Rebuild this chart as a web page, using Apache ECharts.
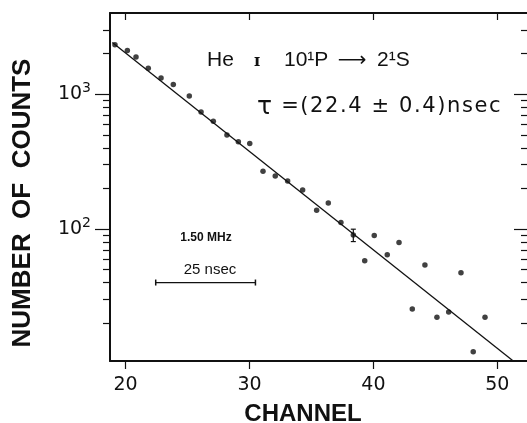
<!DOCTYPE html>
<html><head><meta charset="utf-8">
<script src="https://cdn.jsdelivr.net/npm/echarts@6/dist/echarts.min.js"></script>
<style>html,body{margin:0;padding:0;background:#fff}#c{width:527px;height:423px}</style>
</head><body><div id="c"></div>
<script>
// Measured data (channel, number of counts)
const channels = [19.14, 20.14, 20.84, 21.83, 22.86, 23.85, 25.14, 26.09, 27.08, 28.18, 29.10, 30.02,
  31.09, 32.08, 33.08, 34.29, 35.42, 36.36, 37.38, 38.38, 39.30, 40.07, 41.12, 42.07, 43.14, 44.16,
  45.13, 46.08, 47.07, 48.06, 49.01];
const counts = [2323, 2108, 1884, 1560, 1321, 1178, 971, 739, 631, 499, 443, 430,
  268, 247, 227, 195, 138, 156, 112, 90.2, 58.2, 89.7, 64.4, 79.4, 25.5, 54.1,
  22.2, 24.2, 47.4, 12.3, 22.2];
// Fitted decay line endpoints
const fitChannels = [18.93, 51.29];
const fitCounts = [2416, 10.5];
// Error bar
const errChannels = [38.38];
const errLow = [80.7];
const errHigh = [99.7];
// 25 nsec scale bar
const scaleBarChannels = [22.43, 30.48];
const scaleBarCounts = [40.1, 40.1];
// Axes
const xTickValues = [20, 30, 40, 50];
const yMajorTicks = [100, 1000];
const yMinorTicks = [20, 30, 40, 50, 60, 70, 80, 90, 200, 300, 400, 500, 600, 700, 800, 900, 2000, 3000];
const xMin = 18.74, xMax = 52.4, yMin = 10.5, yMax = 4000;

const ink = '#111';
const lgMin = Math.log10(yMin), lgMax = Math.log10(yMax);

// emulate letter spacing with one rich token per character
function spaced(str) {
  return Array.from(str).map(function (ch) { return '{c|' + ch + '}'; }).join('');
}

function helperY(position, values, length, inside, labels) {
  return {
    type: 'value', position: position, min: lgMin, max: lgMax,
    axisLine: {show: false}, splitLine: {show: false},
    axisTick: {show: true, inside: inside, length: length, customValues: values.map(Math.log10),
      lineStyle: {color: ink, width: 1.2}},
    axisLabel: labels ? {
      show: true, margin: 19, customValues: values.map(Math.log10),
      formatter: function (v) { return '{b|10}{s|' + Math.round(v) + '}'; },
      rich: {
        b: {fontFamily: 'DejaVu Sans', fontSize: 19, color: ink},
        s: {fontFamily: 'DejaVu Sans', fontSize: 14, color: ink, padding: [0, 0, 12, 0]}
      }
    } : {show: false}
  };
}

const chart = echarts.init(document.getElementById('c'), null, {renderer: 'canvas'});
chart.setOption({
  animation: false,
  backgroundColor: '#fff',
  grid: {left: 110, right: 0, top: 13, bottom: 62, containLabel: false, outerBoundsMode: 'none'},
  xAxis: [
    {type: 'value', position: 'bottom', min: xMin, max: xMax,
      axisLine: {show: true, lineStyle: {color: ink, width: 2}},
      axisTick: {show: true, length: 8, customValues: xTickValues, lineStyle: {color: ink, width: 1.2}},
      axisLabel: {show: true, customValues: xTickValues, margin: 15, color: ink,
        fontFamily: 'DejaVu Sans', fontSize: 19},
      splitLine: {show: false}},
    {type: 'value', position: 'top', min: xMin, max: xMax,
      axisLine: {show: true, lineStyle: {color: ink, width: 1.8}},
      axisTick: {show: true, inside: true, length: 7, customValues: xTickValues, lineStyle: {color: ink, width: 1.2}},
      axisLabel: {show: false}, splitLine: {show: false}}
  ],
  yAxis: [
    {type: 'log', logBase: 10, position: 'left', min: yMin, max: yMax,
      axisLine: {show: true, lineStyle: {color: ink, width: 2}},
      axisTick: {show: false}, axisLabel: {show: false}, splitLine: {show: false}, minorTick: {show: false}},
    helperY('left', yMajorTicks, 15, false, true),
    helperY('left', yMinorTicks, 7, false, false),
    helperY('right', yMajorTicks, 13, true, false),
    helperY('right', yMinorTicks, 6, true, false)
  ],
  series: [
    {type: 'line', name: 'fit', xAxisIndex: 0, yAxisIndex: 0,
      data: fitChannels.map((c, i) => [c, fitCounts[i]]),
      symbol: 'none', lineStyle: {color: ink, width: 1.3}, z: 2},
    {type: 'scatter', name: 'counts', xAxisIndex: 0, yAxisIndex: 0,
      data: channels.map((c, i) => [c, counts[i]]),
      symbol: 'circle', symbolSize: 5.5, itemStyle: {color: ink}, z: 3},
    {type: 'custom', name: 'error', xAxisIndex: 0, yAxisIndex: 0,
      data: errChannels.map((c, i) => [c, errLow[i], errHigh[i]]),
      renderItem: function (params, api) {
        const lo = api.coord([api.value(0), api.value(1)]);
        const hi = api.coord([api.value(0), api.value(2)]);
        const w = 2.5, st = {stroke: ink, lineWidth: 1.2};
        return {type: 'group', children: [
          {type: 'line', shape: {x1: lo[0], y1: lo[1], x2: hi[0], y2: hi[1]}, style: st},
          {type: 'line', shape: {x1: lo[0] - w, y1: lo[1], x2: lo[0] + w, y2: lo[1]}, style: st},
          {type: 'line', shape: {x1: hi[0] - w, y1: hi[1], x2: hi[0] + w, y2: hi[1]}, style: st}
        ]};
      }, z: 4},
    {type: 'line', name: 'scale bar', xAxisIndex: 0, yAxisIndex: 0,
      data: scaleBarChannels.map((c, i) => [c, scaleBarCounts[i]]),
      symbol: 'rect', symbolSize: [1.5, 6], itemStyle: {color: ink},
      lineStyle: {color: ink, width: 1.2}, z: 2}
  ],
  graphic: [
    {type: 'text', x: 23, y: 203, rotation: Math.PI / 2,
      style: {text: 'NUMBER  OF  COUNTS', fill: ink, font: 'bold 26px "Liberation Sans", Arial, sans-serif',
        align: 'center', verticalAlign: 'middle'}},
    {type: 'text', x: 303, y: 414,
      style: {text: 'CHANNEL', fill: ink, font: 'bold 24px "Liberation Sans", Arial, sans-serif',
        align: 'center', verticalAlign: 'middle'}},
    {type: 'text', x: 207, y: 60,
      style: {text: 'He', fill: ink, font: '21px "Liberation Sans", Arial, sans-serif', align: 'left', verticalAlign: 'middle'}},
    {type: 'text', x: 254, y: 62,
      style: {text: 'ɪ', fill: ink, font: 'bold 16px "DejaVu Serif", serif', align: 'left', verticalAlign: 'middle'}},
    {type: 'text', x: 284, y: 60,
      style: {text: '10¹P', fill: ink, font: '21px "Liberation Sans", "DejaVu Sans", sans-serif', align: 'left', verticalAlign: 'middle'}},
    {type: 'text', x: 352, y: 61,
      style: {text: '⟶', fill: ink, font: '20px "DejaVu Sans", sans-serif', align: 'center', verticalAlign: 'middle'}},
    {type: 'text', x: 377, y: 60,
      style: {text: '2¹S', fill: ink, font: '21px "Liberation Sans", "DejaVu Sans", sans-serif', align: 'left', verticalAlign: 'middle'}},
    {type: 'text', x: 257, y: 107,
      style: {text: '{t|τ}' + spaced(' =(22.4 ± 0.4)nsec'), fill: ink, align: 'left', verticalAlign: 'middle',
        rich: {
          t: {fontFamily: 'DejaVu Sans', fontSize: 25, color: ink},
          c: {fontFamily: 'DejaVu Sans', fontSize: 21, color: ink, padding: [0, 0.8, 0, 0.8]}
        }}},
    {type: 'text', x: 206, y: 238,
      style: {text: '1.50 MHz', fill: ink, font: 'bold 12px "Liberation Sans", Arial, sans-serif', align: 'center', verticalAlign: 'middle'}},
    {type: 'text', x: 210, y: 270,
      style: {text: '25 nsec', fill: ink, font: '15px "Liberation Sans", Arial, sans-serif', align: 'center', verticalAlign: 'middle'}}
  ]
});
</script></body></html>
